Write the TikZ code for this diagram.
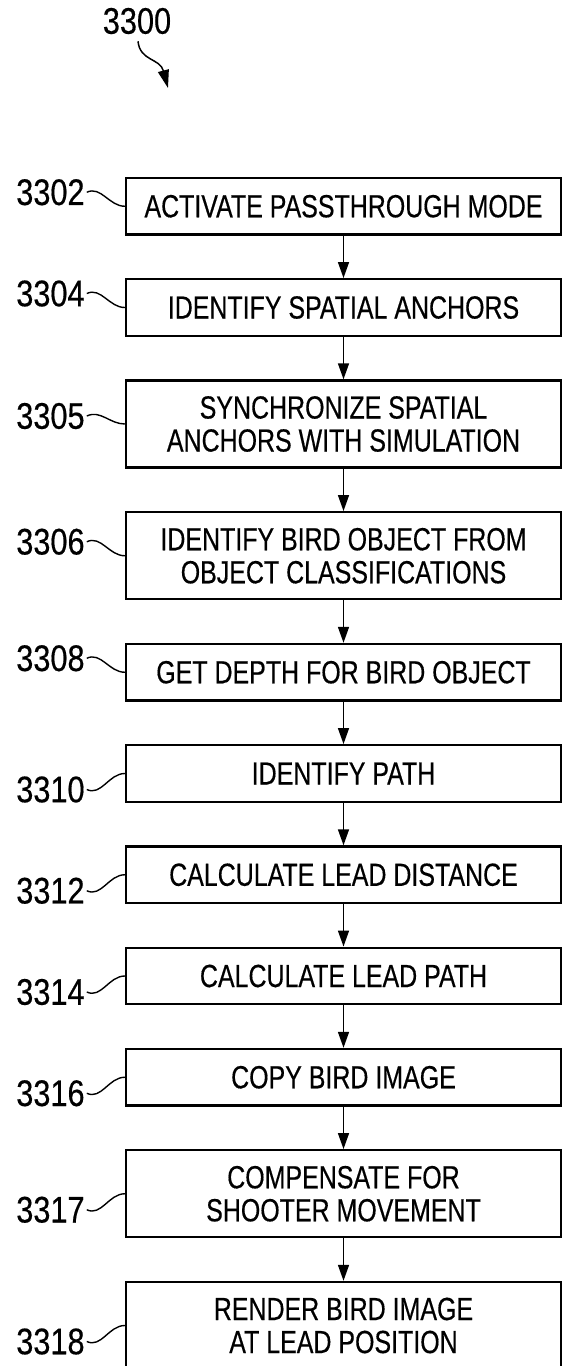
\documentclass[tikz,border=0pt]{standalone}
\usepackage{fontspec}
\setmainfont{Liberation Sans}
\newfontfamily\boxfont{Liberation Sans}[FakeStretch=0.78,FakeBold=0.4]
\newfontfamily\tagfont{Liberation Sans}[FakeStretch=0.83,FakeBold=0.4]
\usetikzlibrary{positioning,arrows.meta}
\tikzset{
  stepbox/.style={draw, line width=2.4pt, minimum width=435pt, minimum height=56.5pt, inner sep=0pt, align=center, font=\boxfont\fontsize{32}{33}\selectfont},
  tallbox/.style={stepbox, minimum height=87pt},
  tag/.style={anchor=east, inner sep=2pt, font=\tagfont\fontsize{37}{37}\selectfont},
  flow/.style={->, line width=1.5pt},
  wiggle/.style={line width=1.4pt}
}
\begin{document}
\begin{tikzpicture}[x=1pt, y=1pt, >={Triangle[length=16pt,width=11pt]}, node distance=42.35pt]
\useasboundingbox (0,0) rectangle (563,-1366);
\node[tag, anchor=center] (fig) at (137,-21) {3300};
\coordinate (figtip) at (168,-88);
\draw[->, line width=1.5pt, >={Triangle[length=18pt,width=11pt]}] ([shift={(1,-5)}]fig.south) .. controls +(2,-20) and +(-8,30) .. (figtip);

\node[stepbox] (b3302) at (343.5,-206.25) {ACTIVATE PASSTHROUGH MODE};
\node[stepbox, below=of b3302] (b3304) {IDENTIFY SPATIAL ANCHORS};
\node[tallbox, below=of b3304] (b3305) {SYNCHRONIZE SPATIAL\\ANCHORS WITH SIMULATION};
\node[tallbox, below=of b3305] (b3306) {IDENTIFY BIRD OBJECT FROM\\OBJECT CLASSIFICATIONS};
\node[stepbox, below=of b3306] (b3308) {GET DEPTH FOR BIRD OBJECT};
\node[stepbox, below=of b3308] (b3310) {IDENTIFY PATH};
\node[stepbox, below=of b3310] (b3312) {CALCULATE LEAD DISTANCE};
\node[stepbox, below=of b3312] (b3314) {CALCULATE LEAD PATH};
\node[stepbox, below=of b3314] (b3316) {COPY BIRD IMAGE};
\node[tallbox, below=of b3316] (b3317) {COMPENSATE FOR\\SHOOTER MOVEMENT};
\node[tallbox, below=of b3317] (b3318) {RENDER BIRD IMAGE\\AT LEAD POSITION};

\draw[flow] (b3302) -- (b3304);
\draw[flow] (b3304) -- (b3305);
\draw[flow] (b3305) -- (b3306);
\draw[flow] (b3306) -- (b3308);
\draw[flow] (b3308) -- (b3310);
\draw[flow] (b3310) -- (b3312);
\draw[flow] (b3312) -- (b3314);
\draw[flow] (b3314) -- (b3316);
\draw[flow] (b3316) -- (b3317);
\draw[flow] (b3317) -- (b3318);

\node[tag] (t3302) at ([shift={(-38,14)}]b3302.west) {3302};
\node[tag] (t3304) at ([shift={(-38,14)}]b3304.west) {3304};
\node[tag] (t3305) at ([shift={(-38,8)}]b3305.west) {3305};
\node[tag] (t3306) at ([shift={(-38,14)}]b3306.west) {3306};
\node[tag] (t3308) at ([shift={(-38,14)}]b3308.west) {3308};
\node[tag] (t3310) at ([shift={(-38,-16)}]b3310.west) {3310};
\node[tag] (t3312) at ([shift={(-38,-16)}]b3312.west) {3312};
\node[tag] (t3314) at ([shift={(-38,-16)}]b3314.west) {3314};
\node[tag] (t3316) at ([shift={(-38,-16)}]b3316.west) {3316};
\node[tag] (t3317) at ([shift={(-38,-16)}]b3317.west) {3317};
\node[tag] (t3318) at ([shift={(-38,-16)}]b3318.west) {3318};
\draw[wiggle] (t3302.east) to[out=25, in=180] (b3302.west);
\draw[wiggle] (t3304.east) to[out=25, in=180] (b3304.west);
\draw[wiggle] (t3305.east) to[out=25, in=180] (b3305.west);
\draw[wiggle] (t3306.east) to[out=25, in=180] (b3306.west);
\draw[wiggle] (t3308.east) to[out=25, in=180] (b3308.west);
\draw[wiggle] (t3310.east) to[out=-25, in=180] (b3310.west);
\draw[wiggle] (t3312.east) to[out=-25, in=180] (b3312.west);
\draw[wiggle] (t3314.east) to[out=-25, in=180] (b3314.west);
\draw[wiggle] (t3316.east) to[out=-25, in=180] (b3316.west);
\draw[wiggle] (t3317.east) to[out=-25, in=180] (b3317.west);
\draw[wiggle] (t3318.east) to[out=-25, in=180] (b3318.west);
\end{tikzpicture}
\end{document}
